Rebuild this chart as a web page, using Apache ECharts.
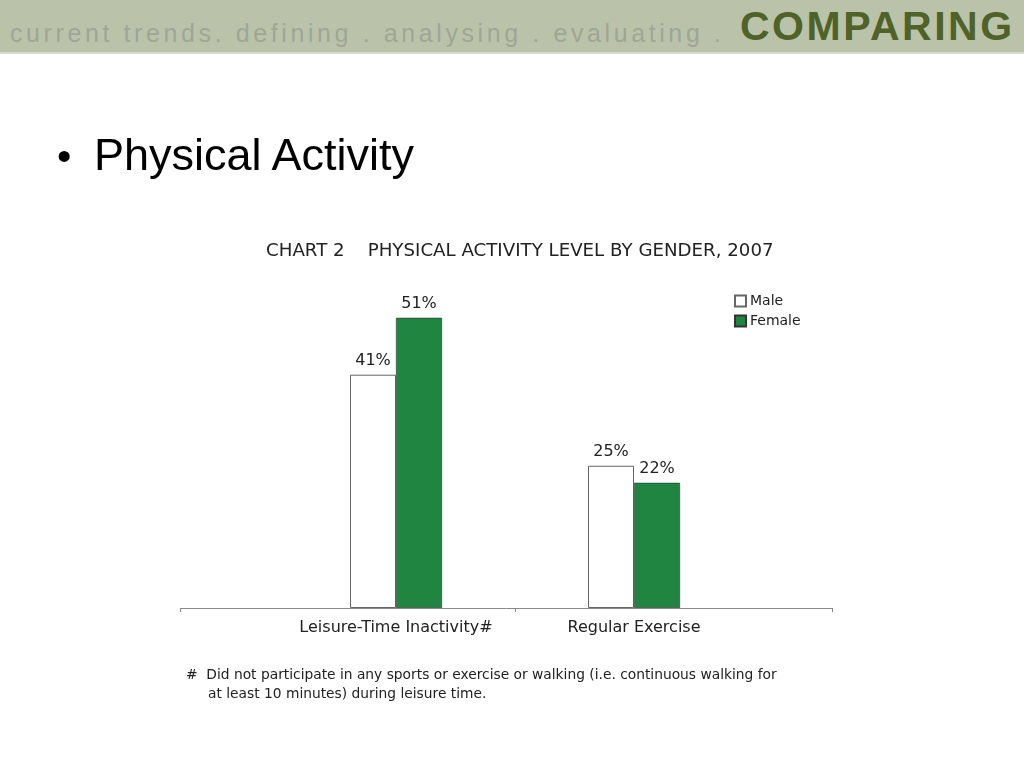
<!DOCTYPE html>
<html><head><meta charset="utf-8">
<script src="https://cdn.jsdelivr.net/npm/echarts@6/dist/echarts.min.js"></script>
<style>
html,body{margin:0;padding:0;width:1024px;height:768px;overflow:hidden;background:#fff;}
#header{position:absolute;left:0;top:0;width:1024px;height:52px;background:#bbc2aa;border-bottom:2px solid #d6dacb;}
#tag{position:absolute;left:10px;top:19px;font-family:"Liberation Sans",Arial,sans-serif;font-size:25px;letter-spacing:3.6px;color:#9fa697;white-space:nowrap;}
#big{position:absolute;left:740px;top:3px;font-family:"Liberation Sans",Arial,sans-serif;font-size:41px;font-weight:bold;color:#4f6328;letter-spacing:2.5px;white-space:nowrap;}
#dot{position:absolute;left:57px;top:133px;font-family:"Liberation Sans",Arial,sans-serif;font-size:41px;color:#000;}
#bullet{position:absolute;left:94px;top:129px;font-family:"Liberation Sans",Arial,sans-serif;font-size:45px;color:#000;white-space:nowrap;}
#chart{position:absolute;left:0;top:0;width:1024px;height:768px;}
</style></head>
<body>
<div id="chart"></div>
<div id="header"><div id="tag">current trends. defining . analysing . evaluating .</div><div id="big">COMPARING</div></div>
<div id="dot">•</div><div id="bullet">Physical Activity</div>
<script>
const categories = ['Leisure-Time Inactivity#', 'Regular Exercise'];
const maleValues = [41, 25];
const femaleValues = [51, 22];
const seriesNames = ['Male', 'Female'];
const chartTitle = 'CHART 2    PHYSICAL ACTIVITY LEVEL BY GENDER, 2007';
const footnote1 = '#  Did not participate in any sports or exercise or walking (i.e. continuous walking for';
const footnote2 = 'at least 10 minutes) during leisure time.';

const FONT = '"DejaVu Sans", Verdana, sans-serif';
const chart = echarts.init(document.getElementById('chart'));
chart.setOption({
  animation: false,
  textStyle: {fontFamily: FONT},
  title: {
    text: chartTitle, left: 266, top: 242, padding: 0,
    textStyle: {fontFamily: FONT, fontSize: 18.2, fontWeight: 'normal', color: '#222'}
  },
  legend: {
    orient: 'vertical', left: 729, top: 289, itemWidth: 11, itemHeight: 11, itemGap: 6,
    icon: 'rect',
    textStyle: {fontFamily: FONT, fontSize: 14, color: '#222', padding: [0,0,0,-1]},
    data: seriesNames
  },
  grid: {left: 277, right: 271, top: 266.6, bottom: 160, containLabel: false},
  xAxis: {
    type: 'category', data: categories,
    axisLine: {show: false},
    axisTick: {show: false},
    axisLabel: {fontFamily: FONT, fontSize: 16, color: '#222', margin: 12, interval: 0}
  },
  yAxis: {type: 'value', min: 0, max: 60, show: false, splitLine: {show: false}},
  series: [
    {name: seriesNames[0], type: 'bar', data: maleValues, barWidth: 46, barGap: '0%',
     itemStyle: {color: '#ffffff', borderColor: '#666', borderWidth: 1},
     label: {show: true, position: 'top', formatter: '{c}%', fontFamily: FONT, fontSize: 16, color: '#222', distance: 6}},
    {name: seriesNames[1], type: 'bar', data: femaleValues, barWidth: 46, barGap: '0%',
     itemStyle: {color: '#218542', borderColor: '#333', borderWidth: 0.6},
     label: {show: true, position: 'top', formatter: '{c}%', fontFamily: FONT, fontSize: 16, color: '#222', distance: 6}}
  ],
  graphic: [
    {type: 'line', shape: {x1: 180, y1: 608.5, x2: 833, y2: 608.5}, style: {stroke: '#888', lineWidth: 1}, z: 10},
    {type: 'line', shape: {x1: 180.5, y1: 608, x2: 180.5, y2: 612}, style: {stroke: '#888', lineWidth: 1}, z: 10},
    {type: 'line', shape: {x1: 515.5, y1: 608, x2: 515.5, y2: 612}, style: {stroke: '#888', lineWidth: 1}, z: 10},
    {type: 'line', shape: {x1: 832.5, y1: 608, x2: 832.5, y2: 612}, style: {stroke: '#888', lineWidth: 1}, z: 10},
    {type: 'text', left: 186, top: 668, style: {text: footnote1, font: '13.8px ' + FONT, fill: '#222'}},
    {type: 'text', left: 208, top: 687, style: {text: footnote2, font: '13.8px ' + FONT, fill: '#222'}}
  ]
});
</script>
</body></html>
